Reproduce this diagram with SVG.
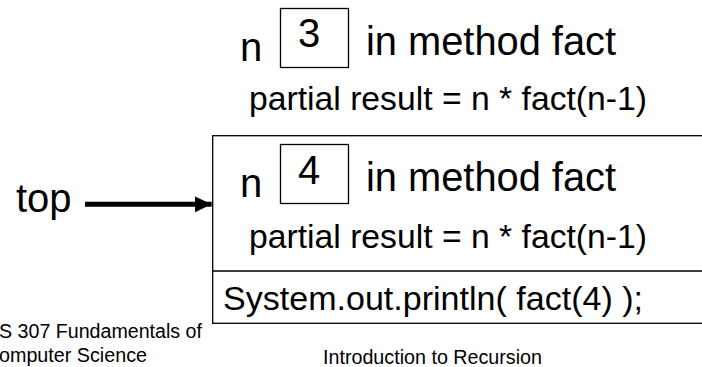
<svg xmlns="http://www.w3.org/2000/svg" width="702" height="367" viewBox="0 0 702 367">
<style>
text{font-family:"Liberation Sans",Arial,sans-serif;fill:#000}
.big{font-size:40px}
.mid{font-size:34px}
.small{font-size:19.5px}
.box{fill:#fff;stroke:#000;stroke-width:1.3}
.line{stroke:#000;stroke-width:1.3;fill:none}
</style>
<defs>
<marker id="ah" markerUnits="userSpaceOnUse" markerWidth="18" markerHeight="18" refX="17" refY="9" orient="auto">
<polygon points="0,1 17,9 0,17" fill="#000"/>
</marker>
</defs>
<g id="frame-outer">
<rect class="box" x="212.7" y="135.7" width="500" height="187.6"/>
<line class="line" x1="212.7" y1="271" x2="702" y2="271"/>
</g>
<g id="frame3">
<text class="big" x="240" y="61">n</text>
<rect class="box" x="280.5" y="8.5" width="68" height="59"/>
<text class="big" x="298" y="47">3</text>
<text class="big" x="366" y="55" textLength="250" lengthAdjust="spacingAndGlyphs">in method fact</text>
<text class="mid" x="249" y="110" textLength="398" lengthAdjust="spacingAndGlyphs">partial result = n * fact(n-1)</text>
</g>
<g id="frame4">
<text class="big" x="240" y="197">n</text>
<rect class="box" x="280.5" y="144.5" width="68" height="59"/>
<text class="big" x="298" y="184">4</text>
<text class="big" x="366" y="191" textLength="250" lengthAdjust="spacingAndGlyphs">in method fact</text>
<text class="mid" x="249" y="248" textLength="398" lengthAdjust="spacingAndGlyphs">partial result = n * fact(n-1)</text>
</g>
<g id="main">
<text class="mid" x="223" y="310" textLength="420" lengthAdjust="spacingAndGlyphs">System.out.println( fact(4) );</text>
</g>
<g id="top-label">
<text class="big" x="16" y="212">top</text>
</g>
<g id="connectors">
<line x1="85" y1="204.3" x2="211.7" y2="204.3" stroke="#000" stroke-width="5" marker-end="url(#ah)"/>
</g>
<g id="footer">
<text class="small" x="-1" y="338" textLength="203" lengthAdjust="spacingAndGlyphs">S 307 Fundamentals of</text>
<text class="small" x="-1" y="362" textLength="148" lengthAdjust="spacingAndGlyphs">omputer Science</text>
<text class="small" x="323" y="364" textLength="219" lengthAdjust="spacingAndGlyphs">Introduction to Recursion</text>
</g>
</svg>
